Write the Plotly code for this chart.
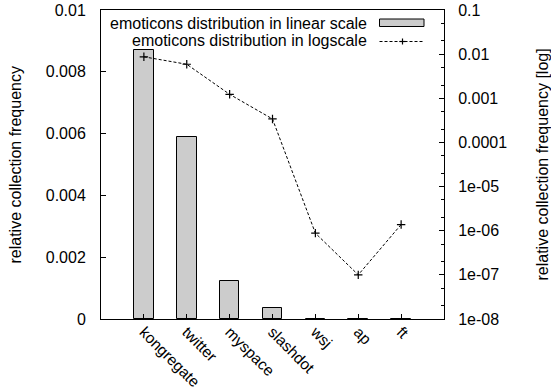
import plotly.graph_objects as go

categories = ["kongregate", "twitter", "myspace", "slashdot", "wsj", "ap", "ft"]
frequency = [0.0087, 0.0059, 0.00123, 0.00034, 8.8e-7, 1.0e-7, 1.38e-6]

lin_tickvals = [0, 0.002, 0.004, 0.006, 0.008, 0.01]
lin_ticktext = ["0", "0.002", "0.004", "0.006", "0.008", "0.01"]
log_tickvals = [1e-8, 1e-7, 1e-6, 1e-5, 1e-4, 1e-3, 1e-2, 1e-1]
log_ticktext = ["1e-08", "1e-07", "1e-06", "1e-05", "0.0001", "0.001", "0.01", "0.1"]

legend_labels = ["emoticons distribution in linear scale",
                 "emoticons distribution in logscale"]
ytitle = "relative collection frequency"
y2title = "relative collection frequency [log]"

FONT = "Liberation Sans, Arial, Helvetica, sans-serif"
W, H = 551, 392
L, R, T, B = 101, 107, 10, 73
PW, PH = W - L - R, H - T - B


def px(x):
    return (x - L) / PW


def py(y):
    return (H - B - y) / PH


fig = go.Figure()
fig.add_trace(go.Bar(
    x=list(range(len(categories))), y=frequency, width=0.46,
    marker=dict(color="#cccccc", line=dict(color="black", width=1)),
    showlegend=False, yaxis="y"))
fig.add_trace(go.Scatter(
    x=list(range(len(categories))), y=frequency, yaxis="y2",
    mode="lines+markers",
    line=dict(color="black", width=1, dash="3px,2px"),
    marker=dict(symbol="cross-thin", size=6, line=dict(color="black", width=1.2)),
    showlegend=False))

fig.update_layout(
    width=W, height=H,
    margin=dict(l=L, r=R, t=T, b=B, pad=0, autoexpand=False),
    paper_bgcolor="white", plot_bgcolor="white",
    font=dict(family=FONT, size=16, color="black"),
    bargap=0,
    xaxis=dict(range=[-1, 7], tickmode="array", tickvals=list(range(len(categories))),
               ticktext=categories, tickangle=45, ticks="inside", ticklen=5,
               tickcolor="black", showline=True, linecolor="black", linewidth=1,
               mirror=True, showgrid=False, zeroline=False, automargin=False,
               ticklabelstandoff=-3, tickfont=dict(size=15.5)),
    yaxis=dict(range=[0, 0.01], tickmode="array", tickvals=lin_tickvals,
               ticktext=lin_ticktext, ticks="inside", ticklen=5, tickcolor="black",
               showline=True, linecolor="black", linewidth=1, showgrid=False,
               zeroline=False, ticklabelstandoff=11, automargin=False),
    yaxis2=dict(type="log", range=[-8, -1], overlaying="y", side="right",
                tickmode="array", tickvals=log_tickvals, ticktext=log_ticktext,
                ticks="inside", ticklen=5, tickcolor="black",
                minor=dict(ticks="inside", ticklen=3, tickcolor="black", dtick="D2"),
                showline=True, linecolor="black", linewidth=1, showgrid=False,
                zeroline=False, ticklabelstandoff=10, automargin=False),
)

annotations = [
    dict(text=ytitle, textangle=-90, x=px(15), y=0.5, xref="paper", yref="paper",
         xanchor="center", yanchor="middle", showarrow=False, font=dict(size=16)),
    dict(text=y2title, textangle=-90, x=px(542), y=0.5, xref="paper", yref="paper",
         xanchor="center", yanchor="middle", showarrow=False, font=dict(size=16)),
    dict(text=legend_labels[0], x=px(369), y=py(23.2), xref="paper", yref="paper",
         xanchor="right", yanchor="middle", showarrow=False, font=dict(size=16)),
    dict(text=legend_labels[1], x=px(369), y=py(40.5), xref="paper", yref="paper",
         xanchor="right", yanchor="middle", showarrow=False, font=dict(size=16)),
]
fig.update_layout(annotations=annotations)

shapes = [
    dict(type="rect", xref="paper", yref="paper", x0=px(379.5), x1=px(424),
         y0=py(26.5), y1=py(19), fillcolor="#cccccc", line=dict(color="black", width=1)),
    dict(type="line", xref="paper", yref="paper", x0=px(379.5), x1=px(424),
         y0=py(41.5), y1=py(41.5), line=dict(color="black", width=1, dash="3px,2px")),
    dict(type="line", xref="paper", yref="paper", x0=px(399.5), x1=px(405.5),
         y0=py(41.5), y1=py(41.5), line=dict(color="black", width=1.2)),
    dict(type="line", xref="paper", yref="paper", x0=px(402.5), x1=px(402.5),
         y0=py(38.5), y1=py(44.5), line=dict(color="black", width=1.2)),
]
fig.update_layout(shapes=shapes)

fig.write_html("out.html")
